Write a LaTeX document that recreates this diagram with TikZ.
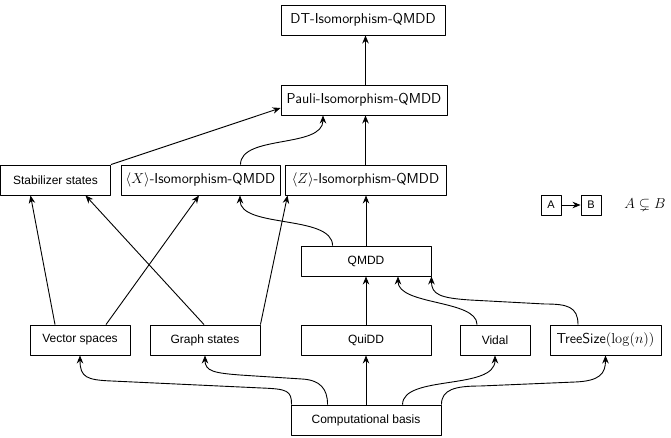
\documentclass[tikz,border=0pt]{standalone}
\usepackage{amsmath,amssymb}
\usepackage[no-math]{fontspec}
\setmainfont{Liberation Sans}
\usetikzlibrary{arrows.meta}
\newcommand\grande{\fontsize{14.4}{17}\selectfont}
\begin{document}
\begin{tikzpicture}[x=1pt, y=-1pt, line width=0.9pt, line join=round,
    caja/.style={draw, minimum height=30pt, inner sep=0pt, font=\fontsize{12}{14}\selectfont},
    flecha/.style={-{Stealth[length=8pt,width=6.5pt]}}]
  \useasboundingbox (0,0) rectangle (671,437);
  % las cajas de arriba
  \node[caja, minimum width=164pt] (dt) at (363,20) {\grande\sffamily DT-Isomorphism-QMDD};
  \node[caja, minimum width=166pt] (pauli) at (364,100) {\grande\sffamily Pauli-Isomorphism-QMDD};
  \node[caja, minimum width=110pt] (stab) at (55.5,180) {Stabilizer states};
  \node[caja, minimum width=159pt] (xiso) at (200.5,180) {\grande$\langle X\rangle$\sffamily-Isomorphism-QMDD};
  \node[caja, minimum width=161pt] (ziso) at (365.5,180) {\grande$\langle Z\rangle$\sffamily-Isomorphism-QMDD};
  \node[caja, minimum width=130pt] (qmdd) at (366,261) {QMDD};
  % las cajas de abajo
  \node[caja, minimum width=100pt] (vs) at (80,340) {Vector spaces};
  \node[caja, minimum width=110pt] (gs) at (205,340) {Graph states};
  \node[caja, minimum width=130pt] (quidd) at (366,340) {QuiDD};
  \node[caja, minimum width=70pt] (vidal) at (495,340) {Vidal};
  \node[caja, minimum width=111pt] (tree) at (605.5,340) {\grande\textsf{TreeSize}$(\log(n))$};
  \node[caja, minimum width=150pt] (cb) at (366,420) {Computational basis};
  % la leyenda
  \node[caja, minimum width=20pt, minimum height=20pt, font=\fontsize{11}{13}\selectfont] (lega) at (551,205) {A};
  \node[caja, minimum width=20pt, minimum height=20pt, font=\fontsize{11}{13}\selectfont] (legb) at (591,205) {B};
  \node (legt) at (645,205) {\grande$A \subsetneq B$};
  \draw[flecha] (lega.east) -- (legb.west);
  % las flechas rectas
  \draw[flecha] (ziso.north |- pauli.north) -- (ziso.north |- dt.south);
  \draw[flecha] (ziso.north) -- (ziso.north |- pauli.south);
  \draw[flecha] (qmdd.north) -- (qmdd.north |- ziso.south);
  \draw[flecha] (quidd.north) -- (qmdd.south);
  \draw[flecha] (cb.north) -- (quidd.south);
  \draw[flecha] (stab.north east) -- ([yshift=-8pt]pauli.west);
  \draw[flecha] ([xshift=-25pt]vs.north) -- ([xshift=-25pt]stab.south);
  \draw[flecha] ([xshift=26pt]vs.north) -- ([xshift=-1.5pt]xiso.south);
  \draw[flecha] ([xshift=-1pt]gs.north) -- ([xshift=30pt]stab.south);
  \draw[flecha] (gs.north east) -- ([xshift=3pt]ziso.south west);
  % las flechas curvas
  \draw[flecha] ([xshift=40pt]xiso.north) .. controls +(0,-30) and +(0,33) .. ([xshift=-41pt]pauli.south);
  \draw[flecha] ([xshift=32pt]qmdd.north west) .. controls +(0,-31) and +(0,33) .. ([xshift=39.5pt]xiso.south);
  \draw[flecha] ([xshift=-18pt]vidal.north) .. controls +(0,-25) and +(0,29) .. ([xshift=32pt]qmdd.south);
  \draw[flecha] ([xshift=-27.5pt]tree.north) .. controls +(0,-18) and +(22,0) .. (545,304)
    -- (470,300) .. controls +(-30,-2) and +(0,18) .. (qmdd.south east);
  \draw[flecha] ([xshift=1pt]cb.north west) .. controls +(0,-14) and +(25,1) .. (262,388)
    -- (112,381) .. controls +(-25,-1) and +(0,22) .. (vs.south);
  \draw[flecha] ([xshift=37pt]cb.north west) .. controls +(0,-16) and +(18,1) .. (302,379)
    -- (240,375) .. controls +(-25,-2) and +(0,16) .. (gs.south);
  \draw[flecha] ([xshift=112pt]cb.north west) .. controls +(0,-30) and +(0,35) .. (vidal.south);
  \draw[flecha] (cb.north east) .. controls +(0,-15) and +(-25,0) .. (480,386)
    -- (575,382) .. controls +(25,-1) and +(0,18) .. (tree.south);
\end{tikzpicture}
\end{document}
